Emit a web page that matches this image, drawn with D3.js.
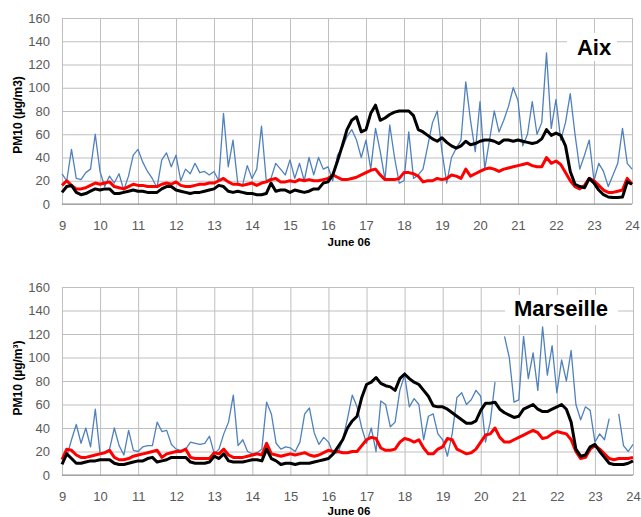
<!DOCTYPE html>
<html>
<head>
<meta charset="utf-8">
<script src="https://cdn.jsdelivr.net/npm/d3@7"></script>
<style>
  html, body { margin: 0; padding: 0; background: #fff; }
  svg { display: block; }
</style>
</head>
<body>
<svg id="chart" width="641" height="517"></svg>
<script>
// ---------- DATA (3-hourly values, 8 per day, June 9 .. June 24) ----------
const dayTicks = [9,10,11,12,13,14,15,16,17,18,19,20,21,22,23,24];
const yTicks = [0,20,40,60,80,100,120,140,160];

// Aix – measured (blue)
const aixBlue = [
  [26, 20, 47, 22, 21, 27, 30, 60],
  [28, 15, 24, 18, 26, 12, 24, 42],
  [47, 36, 28, 22, 14, 38, 44, 32],
  [42, 20, 30, 26, 35, 27, 28, 25],
  [28, 20, 78, 32, 55, 18, 16, 33],
  [22, 30, 67, 20, 22, 35, 30, 25],
  [38, 22, 35, 20, 40, 25, 40, 30],
  [32, 20, 42, 48, 58, 64, 55, 40],
  [55, 30, 65, 45, 21, 68, 40, 18],
  [20, 62, 22, 25, 30, 50, 70, 80],
  [45, 18, 40, 48, 55, 105, 72, 45],
  [88, 30, 55, 80, 62, 72, 84, 100],
  [89, 50, 60, 88, 60, 70, 130, 65],
  [90, 55, 70, 95, 60, 30, 42, 55],
  [20, 35, 28, 15, 25, 35, 65, 35],
  [30]
];
// Aix – red series
const aixRed = [
  [16, 20, 16, 13, 13, 14, 16, 18],
  [17, 18, 19, 15, 14, 13, 15, 17],
  [16, 16, 15, 15, 15, 17, 18, 17],
  [19, 16, 15, 15, 16, 17, 17, 18],
  [18, 20, 22, 19, 17, 17, 16, 17],
  [18, 16, 18, 19, 21, 22, 19, 19],
  [20, 19, 21, 20, 21, 20, 20, 21],
  [22, 25, 23, 21, 21, 22, 23, 25],
  [27, 29, 30, 25, 21, 21, 21, 22],
  [27, 27, 26, 24, 19, 20, 20, 22],
  [21, 22, 25, 24, 22, 30, 24, 26],
  [28, 30, 31, 30, 28, 30, 31, 32],
  [33, 34, 35, 33, 32, 32, 40, 35],
  [37, 34, 27, 20, 15, 13, 16, 22],
  [20, 16, 12, 10, 10, 11, 12, 22],
  [17]
];
// Aix – black series
const aixBlack = [
  [10, 15, 16, 10, 8, 9, 11, 13],
  [12, 13, 13, 9, 9, 10, 11, 12],
  [11, 11, 10, 10, 10, 13, 15, 15],
  [12, 11, 10, 9, 10, 10, 11, 12],
  [13, 16, 15, 11, 10, 11, 10, 9],
  [9, 8, 8, 9, 18, 11, 12, 12],
  [10, 12, 11, 10, 11, 13, 13, 18],
  [19, 25, 37, 50, 64, 72, 75, 62],
  [64, 78, 85, 72, 74, 77, 79, 80],
  [80, 80, 76, 64, 62, 59, 56, 54],
  [57, 53, 50, 48, 50, 54, 51, 52],
  [54, 55, 55, 54, 52, 55, 55, 54],
  [55, 54, 53, 52, 53, 56, 64, 59],
  [61, 59, 50, 28, 17, 15, 14, 22],
  [18, 12, 8, 6, 5.5, 5.5, 6, 19],
  [17]
];

// Marseille – measured (blue), null = missing
const marBlue = [
  [15, 16, 30, 43, 27, 40, 24, 56],
  [18, 19, 22, 40, 25, 17, 38, 21],
  [20, 24, 25, 25, 45, 37, 38, 26],
  [22, 21, 22, 28, 27, 26, 27, 33],
  [18, 22, 35, 45, 68, 25, 30, 20],
  [18, 19, 22, 62, 52, 27, 22, 24],
  [23, 20, 28, 52, 57, 36, 26, 32],
  [28, 18, 19, 30, 48, 68, 58, 40],
  [27, 40, 20, 63, 60, 41, 45, 72],
  [85, 58, 65, 60, 30, 50, 52, 35],
  [30, 16, 35, 66, 70, 60, 64, 72],
  [67, 28, 45, 79, null, 118, 100, 62],
  [64, 118, 82, 104, 72, 126, 85, 110],
  [70, 98, 80, 106, 60, 47, 58, 55],
  [28, 35, 30, 48, null, 52, 25, 20],
  [26]
];
// Marseille – red series
const marRed = [
  [13, 22, 21, 17, 15, 15, 16, 17],
  [18, 19, 21, 15, 13, 13, 14, 16],
  [17, 18, 19, 20, 21, 15, 18, 19],
  [20, 20, 22, 15, 14, 14, 14, 14],
  [19, 18, 22, 17, 15, 15, 15, 16],
  [17, 18, 17, 27, 18, 17, 16, 17],
  [18, 17, 18, 19, 17, 16, 17, 19],
  [21, 20, 20, 19, 19, 20, 20, 25],
  [30, 32, 31, 23, 21, 21, 22, 28],
  [31, 30, 28, 30, 23, 18, 18, 22],
  [24, 31, 30, 22, 20, 18, 19, 22],
  [28, 34, 35, 40, 32, 28, 28, 30],
  [32, 34, 36, 38, 36, 31, 32, 35],
  [37, 36, 35, 30, 20, 14, 15, 22],
  [25, 22, 18, 14, 13, 14, 14, 14],
  [15]
];
// Marseille – black series
const marBlack = [
  [9, 18, 14, 10, 10, 11, 12, 12],
  [13, 13, 13, 10, 9, 9, 10, 11],
  [12, 12, 14, 15, 11, 12, 13, 15],
  [15, 15, 15, 11, 10, 10, 10, 11],
  [16, 14, 18, 12, 11, 11, 11, 12],
  [13, 13, 12, 22, 14, 12, 9, 10],
  [10, 9, 10, 10, 10, 11, 12, 13],
  [14, 18, 24, 30, 40, 46, 50, 66],
  [77, 79, 83, 78, 76, 75, 72, 82],
  [86, 82, 79, 77, 72, 67, 59, 58],
  [58, 56, 53, 50, 47, 44, 44, 46],
  [55, 61, 61, 62, 56, 53, 51, 49],
  [50, 56, 58, 60, 56, 54, 54, 56],
  [58, 60, 56, 45, 22, 16, 17, 24],
  [26, 20, 15, 10, 9, 9, 9, 10],
  [12]
];

// ---------- DRAWING ----------
const svg = d3.select("#chart");
const FONT = "'Liberation Sans', Arial, sans-serif";

function toPoints(rows) {
  const flat = rows.flat();
  return flat.map((v, i) => ({ t: 9 + i / 8, v: v }));
}

const panels = [
  { top: 18, bottom: 204, left: 62, right: 632, title: "Aix",
    ylabel: "PM10 (µg/m3)", labelY: 115,
    box: { x: 567, y: 33, w: 50, h: 28 }, titleX: 594, titleY: 55,
    junY: 246, blue: aixBlue, red: aixRed, black: aixBlack },
  { top: 287, bottom: 475, left: 62, right: 633, title: "Marseille",
    ylabel: "PM10 (µg/m³)", labelY: 378,
    box: { x: 505, y: 295, w: 113, h: 30 }, titleX: 561, titleY: 316,
    junY: 515, blue: marBlue, red: marRed, black: marBlack }
];

panels.forEach(p => {
  const x = d3.scaleLinear().domain([9, 24]).range([p.left, p.right]);
  const y = d3.scaleLinear().domain([0, 160]).range([p.bottom, p.top]);
  const g = svg.append("g");

  // horizontal grid + y labels
  const ya = g.append("g")
    .attr("transform", `translate(${p.left},0)`)
    .call(d3.axisLeft(y).tickValues(yTicks).tickSize(-(p.right - p.left)).tickPadding(12));
  ya.select(".domain").remove();
  ya.selectAll(".tick line").attr("stroke", "#bfbfbf").attr("stroke-width", 1);
  ya.selectAll(".tick text").attr("fill", "#595959").style("font-family", FONT).style("font-size", "13px");

  // vertical grid + x labels
  const xa = g.append("g")
    .attr("transform", `translate(0,${p.bottom})`)
    .call(d3.axisBottom(x).tickValues(dayTicks).tickSize(-(p.bottom - p.top)).tickPadding(17));
  xa.select(".domain").remove();
  xa.selectAll(".tick line").attr("stroke", "#bfbfbf").attr("stroke-width", 1);
  xa.selectAll(".tick text").attr("fill", "#595959").style("font-family", FONT).style("font-size", "13px");

  // bottom axis line
  g.append("line")
    .attr("x1", p.left).attr("x2", p.right)
    .attr("y1", y(0)).attr("y2", y(0))
    .attr("stroke", "#8c8c8c").attr("stroke-width", 1);

  // title box
  g.append("rect")
    .attr("x", p.box.x).attr("y", p.box.y).attr("width", p.box.w).attr("height", p.box.h)
    .attr("fill", "#fff");
  g.append("text")
    .attr("x", p.titleX).attr("y", p.titleY)
    .attr("text-anchor", "middle")
    .style("font-family", FONT).style("font-weight", "bold").style("font-size", "22px")
    .attr("fill", "#000").text(p.title);

  // lines
  const line = d3.line()
    .defined(d => d.v != null)
    .x(d => x(d.t)).y(d => y(d.v));

  g.append("path").datum(toPoints(p.blue))
    .attr("d", line).attr("fill", "none")
    .attr("stroke", "#4f81bd").attr("stroke-width", 1.3).attr("stroke-linejoin", "round");
  g.append("path").datum(toPoints(p.red))
    .attr("d", line).attr("fill", "none")
    .attr("stroke", "#ff0000").attr("stroke-width", 3).attr("stroke-linejoin", "round");
  g.append("path").datum(toPoints(p.black))
    .attr("d", line).attr("fill", "none")
    .attr("stroke", "#000").attr("stroke-width", 3).attr("stroke-linejoin", "round");

  // y axis title
  g.append("text")
    .attr("transform", `translate(22,${p.labelY}) rotate(-90)`)
    .attr("text-anchor", "middle")
    .style("font-family", FONT).style("font-weight", "bold").style("font-size", "12px")
    .attr("fill", "#000").text(p.ylabel);

  // x axis title
  g.append("text")
    .attr("x", 349).attr("y", p.junY)
    .attr("text-anchor", "middle")
    .style("font-family", FONT).style("font-weight", "bold").style("font-size", "11.5px")
    .attr("fill", "#000").text("June 06");
});
</script>
</body>
</html>
